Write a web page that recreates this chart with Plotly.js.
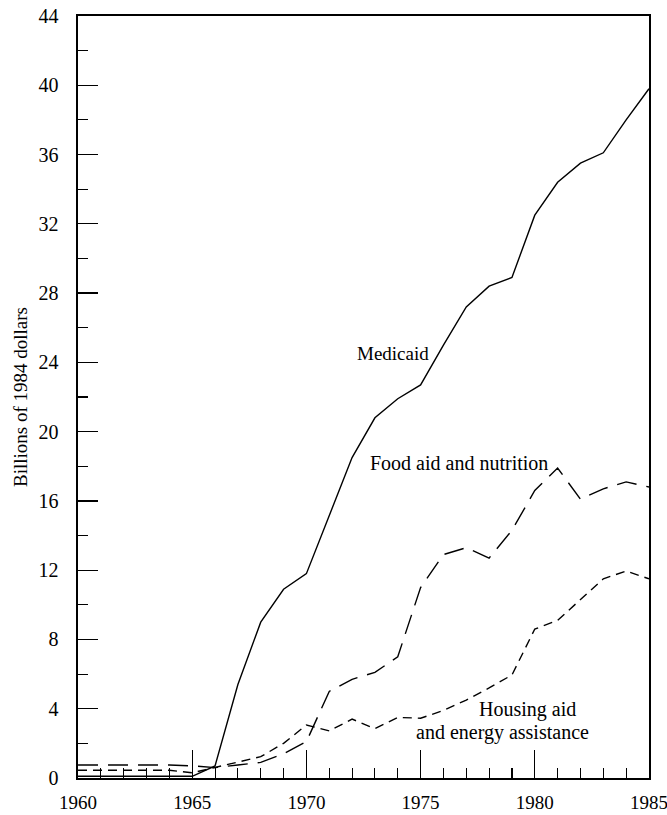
<!DOCTYPE html>
<html>
<head>
<meta charset="utf-8">
<script src="https://cdn.plot.ly/plotly-3.0.1.min.js"></script>
<style>
  html, body { margin: 0; padding: 0; background: #ffffff; }
  #chart { width: 667px; height: 815px; }
</style>
</head>
<body>
<div id="chart"></div>
<script>
// ---- data (billions of 1984 dollars) ----
const years = [1960,1961,1962,1963,1964,1965,1966,1967,1968,1969,1970,1971,1972,
               1973,1974,1975,1976,1977,1978,1979,1980,1981,1982,1983,1984,1985];
const medicaid = [0.1,0.1,0.1,0.1,0.1,0.1,0.7,5.4,9.0,10.9,11.8,15.1,18.5,
                  20.8,21.9,22.7,25.0,27.2,28.4,28.9,32.5,34.4,35.5,36.1,38.0,39.8];
const foodAid = [0.75,0.75,0.75,0.75,0.75,0.7,0.6,0.75,0.9,1.4,2.1,5.0,5.7,
                 6.1,7.0,11.0,12.9,13.3,12.7,14.3,16.6,17.9,16.1,16.7,17.1,16.8];
const housing = [0.45,0.45,0.45,0.45,0.45,0.3,0.6,0.9,1.23,2.0,3.06,2.72,3.4,
                 2.85,3.5,3.45,3.9,4.5,5.2,5.95,8.6,9.1,10.3,11.5,11.95,11.5];
const xTickVals = [1960,1965,1970,1975,1980,1985];
const xTickText = ["1960","1965","1970","1975","1980","1985"];
const yTickVals = [0,4,8,12,16,20,24,28,32,36,40,44];
const yTickText = ["0","4","8","12","16","20","24","28","32","36","40","44"];

const FONT = "Liberation Serif, Times New Roman, serif";

const traces = [
  { x: years, y: medicaid, mode: "lines", name: "Medicaid",
    line: { color: "#000", width: 1.4 } },
  { x: years, y: foodAid, mode: "lines", name: "Food aid and nutrition",
    line: { color: "#000", width: 1.4, dash: "20px,10px" } },
  { x: years, y: housing, mode: "lines", name: "Housing aid and energy assistance",
    line: { color: "#000", width: 1.4, dash: "9px,6px" } }
];

const layout = {
  width: 667, height: 815,
  margin: { l: 78, r: 18, t: 16, b: 37 },
  paper_bgcolor: "#fff", plot_bgcolor: "#fff",
  showlegend: false,
  font: { family: FONT, size: 20, color: "#000" },
  xaxis: {
    range: [1959.999, 1985.001],
    tickvals: xTickVals, ticktext: xTickText,
    ticks: "inside", ticklen: 28, tickwidth: 1.3, tickcolor: "#000",
    minor: { dtick: 1, tick0: 1960, ticks: "inside", ticklen: 10, tickwidth: 1.1, tickcolor: "#000", showgrid: false },
    showline: true, mirror: true, linecolor: "#000", linewidth: 1.6,
    showgrid: false, zeroline: false,
    ticklabelstandoff: 7,
    ticklabeloverflow: "allow",
    tickfont: { family: FONT, size: 19, color: "#000" }
  },
  yaxis: {
    range: [0, 44],
    tickvals: yTickVals, ticktext: yTickText,
    ticks: "inside", ticklen: 20, tickwidth: 1.3, tickcolor: "#000",
    minor: { dtick: 2, tick0: 0, ticks: "inside", ticklen: 10, tickwidth: 1.1, tickcolor: "#000", showgrid: false },
    showline: true, mirror: true, linecolor: "#000", linewidth: 1.6,
    showgrid: false, zeroline: false,
    ticklabelstandoff: 14,
    tickfont: { family: FONT, size: 20, color: "#000" },
    title: { text: "Billions of 1984 dollars", font: { family: FONT, size: 19, color: "#000" }, standoff: 6 }
  },
  annotations: [
    { text: "Medicaid", x: 1973.8, y: 24.5, xref: "x", yref: "y", showarrow: false,
      font: { family: FONT, size: 19, color: "#000" } },
    { text: "Food aid and nutrition", x: 1976.7, y: 18.2, xref: "x", yref: "y", showarrow: false,
      font: { family: FONT, size: 20, color: "#000" } },
    { text: "Housing aid", x: 1979.7, y: 3.93, xref: "x", yref: "y", showarrow: false,
      font: { family: FONT, size: 20, color: "#000" } },
    { text: "and energy assistance", x: 1978.6, y: 2.6, xref: "x", yref: "y", showarrow: false,
      font: { family: FONT, size: 20, color: "#000" } }
  ]
};

Plotly.newPlot("chart", traces, layout, { staticPlot: true, displayModeBar: false });
</script>
</body>
</html>
